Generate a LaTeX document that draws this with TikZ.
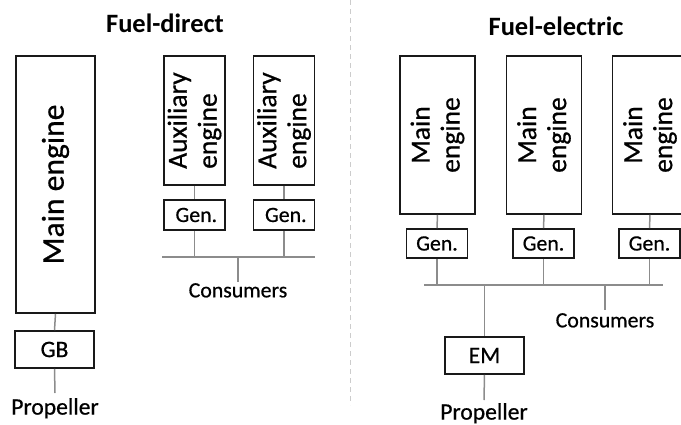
\documentclass[tikz,border=0pt]{standalone}
\usepackage{fontspec}
\setmainfont{Carlito}[UprightFeatures={FakeBold=0.6}]

\tikzset{
  box/.style={draw=black!90, line width=1.6pt, inner sep=0pt},
  link/.style={draw=black!45, line width=1.5pt},
  lbl/.style={inner sep=0pt, font=\fontsize{21.8}{24}\selectfont},
  big/.style={inner sep=0pt, font=\fontsize{23.6}{26}\selectfont},
  eng/.style={inner sep=0pt, rotate=90, font=\fontsize{27.5}{30}\selectfont},
  title/.style={anchor=base, inner sep=0pt, font=\bfseries\fontsize{26.5}{30}\selectfont},
}

\begin{document}
\begin{tikzpicture}[x=1pt, y=-1pt]
  \useasboundingbox (0,0) rectangle (681,424);

  % Divider
  \draw[black!20, line width=1pt, dash pattern=on 5pt off 4pt] (350,0) -- (350,405);

  % Titles
  \node[title] (tdirect) at (165,32.7) {Fuel-direct};
  \node[title] (telectric) at (556,35) {Fuel-electric};

  % Fuel-direct: main engine and gearbox
  \node[box, minimum width=79pt, minimum height=257pt] (me) at (55.5,184.5) {};
  \node[eng, font=\fontsize{31.6}{36}\selectfont] (metext) at (me) {Main engine};
  \node[box, big, minimum width=79pt, minimum height=37pt] (gb) at (54.5,349.5) {GB};
  \node[big, anchor=north] (prop) at (55,398) {Propeller};
  \draw[link] (me.south) -- (gb.north);
  \draw[link] (gb.south) -- ([yshift=5pt]prop.north);

  % Fuel-direct: auxiliary engines
  \coordinate (busl) at (162,257);
  \coordinate (busr) at (315,257);
  \draw[link] (busl) -- (busr);
  \foreach \n/\x in {1/194.5, 2/284} {
    \node[box, minimum width=61pt, minimum height=129pt] (aux\n) at (\x,120.5) {};
    \node[eng, align=left] (auxtext\n) at (aux\n) {Auxiliary\\engine};
    \node[box, lbl, minimum width=61pt, minimum height=30pt] (gen\n) at (\x,215) {\,Gen.};
    \draw[link] (aux\n.south) -- (gen\n.north);
    \draw[link] (gen\n.south) -- (gen\n.south |- busl);
  };
  \node[lbl, anchor=north] (cons) at (238,283) {Consumers};
  \draw[link] (cons.north |- busl) -- ([yshift=1pt]cons.north);

  % Fuel-electric: main engines
  \coordinate (bus2l) at (424,285);
  \coordinate (bus2r) at (663,285);
  \draw[link] (bus2l) -- (bus2r);
  \foreach \n/\x in {a/437.5, b/544, c/650} {
    \node[box, minimum width=75pt, minimum height=158pt] (me\n) at (\x,135) {};
    \node[eng, align=center] (metext\n) at (me\n) {Main\\engine};
    \node[box, lbl, minimum width=61pt, minimum height=29pt] (gen\n) at (\x-0.5,243.5) {Gen.};
    \draw[link] (me\n.south) -- (gen\n.north);
    \draw[link] (gen\n.south) -- (gen\n.south |- bus2l);
  };

  % Fuel-electric: electric motor
  \node[box, big, minimum width=79pt, minimum height=37pt] (em) at (484.5,355.5) {EM};
  \node[big, anchor=north] (prop2) at (484,403) {Propeller};
  \draw[link] (em.north |- bus2l) -- (em.north);
  \draw[link] (em.south) -- ([yshift=3pt]prop2.north);
  \node[lbl, anchor=north] (cons2) at (605,313) {Consumers};
  \draw[link] (cons2.north |- bus2l) -- ([yshift=3pt]cons2.north);
\end{tikzpicture}
\end{document}
